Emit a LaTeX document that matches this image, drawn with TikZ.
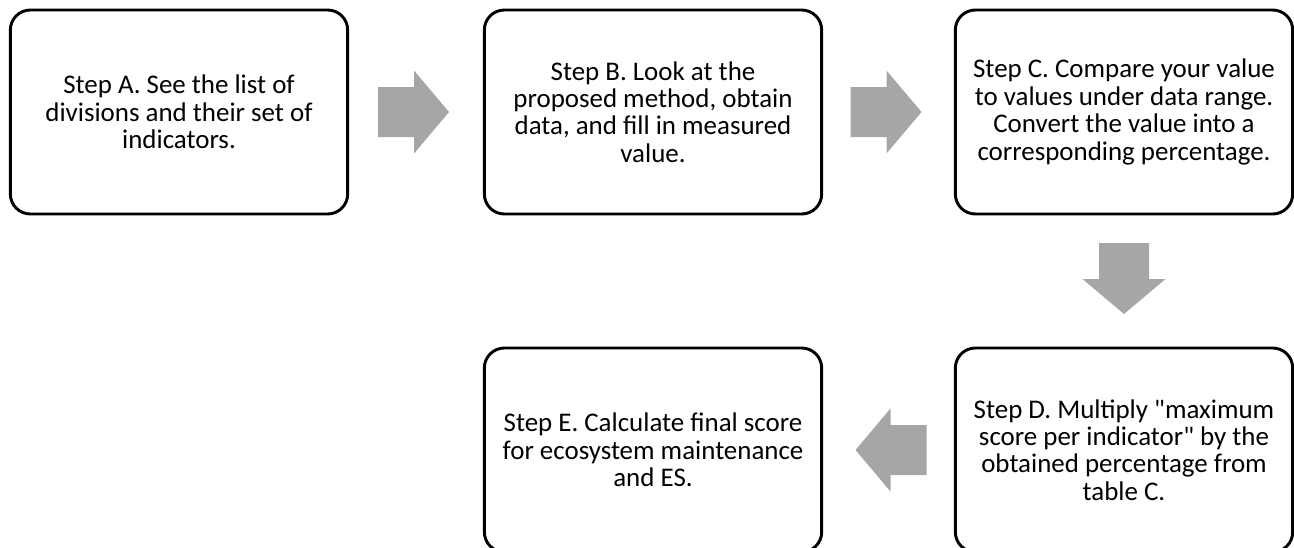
\documentclass[tikz,border=0pt]{standalone}
\usepackage{fontspec}
\setmainfont{Carlito}
\usetikzlibrary{calc}
\definecolor{arrowgray}{HTML}{A6A6A6}
\tikzset{
  stepbox/.style={draw=black, line width=2.2pt, rounded corners=15pt, fill=white,
    minimum width=253pt, minimum height=153pt, align=center, inner sep=0pt,
    font=\fontsize{20.2}{20.6}\selectfont},
  blockarrow/.style={fill=arrowgray}
}
\begin{document}
\begin{tikzpicture}[x=0.75pt, y=-0.75pt]
\clip (0, 0) rectangle (1294, 547);
%Steps
\node[stepbox] (stepA) at (179, 112) {Step A. See the list of\\divisions and their set of\\indicators.};
\node[stepbox] (stepB) at (653, 112) {Step B. Look at the\\proposed method, obtain\\data, and fill in measured\\value.};
\node[stepbox] (stepC) at (1124, 112) {Step C. Compare your value\\to values under data range.\\Convert the value into a\\corresponding percentage.};
\node[stepbox] (stepD) at (1124, 450) {Step D. Multiply \textquotedbl maximum\\score per indicator\textquotedbl{} by the\\obtained percentage from\\table C.};
\node[stepbox] (stepE) at (653, 450) {Step E. Calculate final score\\for ecosystem maintenance\\and ES.};
%Block arrows
\fill[blockarrow, shift={($(stepA.east)!0.5!(stepB.west)$)}] (-38, -25) -- (-2, -25) -- (-2, -41.5) -- (33, 0) -- (-2, 41.5) -- (-2, 25) -- (-38, 25) -- cycle;
\fill[blockarrow, shift={($(stepB.east)!0.5!(stepC.west)$)}] (-38, -25) -- (-2, -25) -- (-2, -41.5) -- (33, 0) -- (-2, 41.5) -- (-2, 25) -- (-38, 25) -- cycle;
\fill[blockarrow, shift={($(stepC.south)!0.5!(stepD.north)$)}, rotate=-90] (-38, -25) -- (-2, -25) -- (-2, -41.5) -- (33, 0) -- (-2, 41.5) -- (-2, 25) -- (-38, 25) -- cycle;
\fill[blockarrow, shift={($(stepD.west)!0.5!(stepE.east)$)}, rotate=180] (-38, -25) -- (-2, -25) -- (-2, -41.5) -- (33, 0) -- (-2, 41.5) -- (-2, 25) -- (-38, 25) -- cycle;
\end{tikzpicture}
\end{document}
